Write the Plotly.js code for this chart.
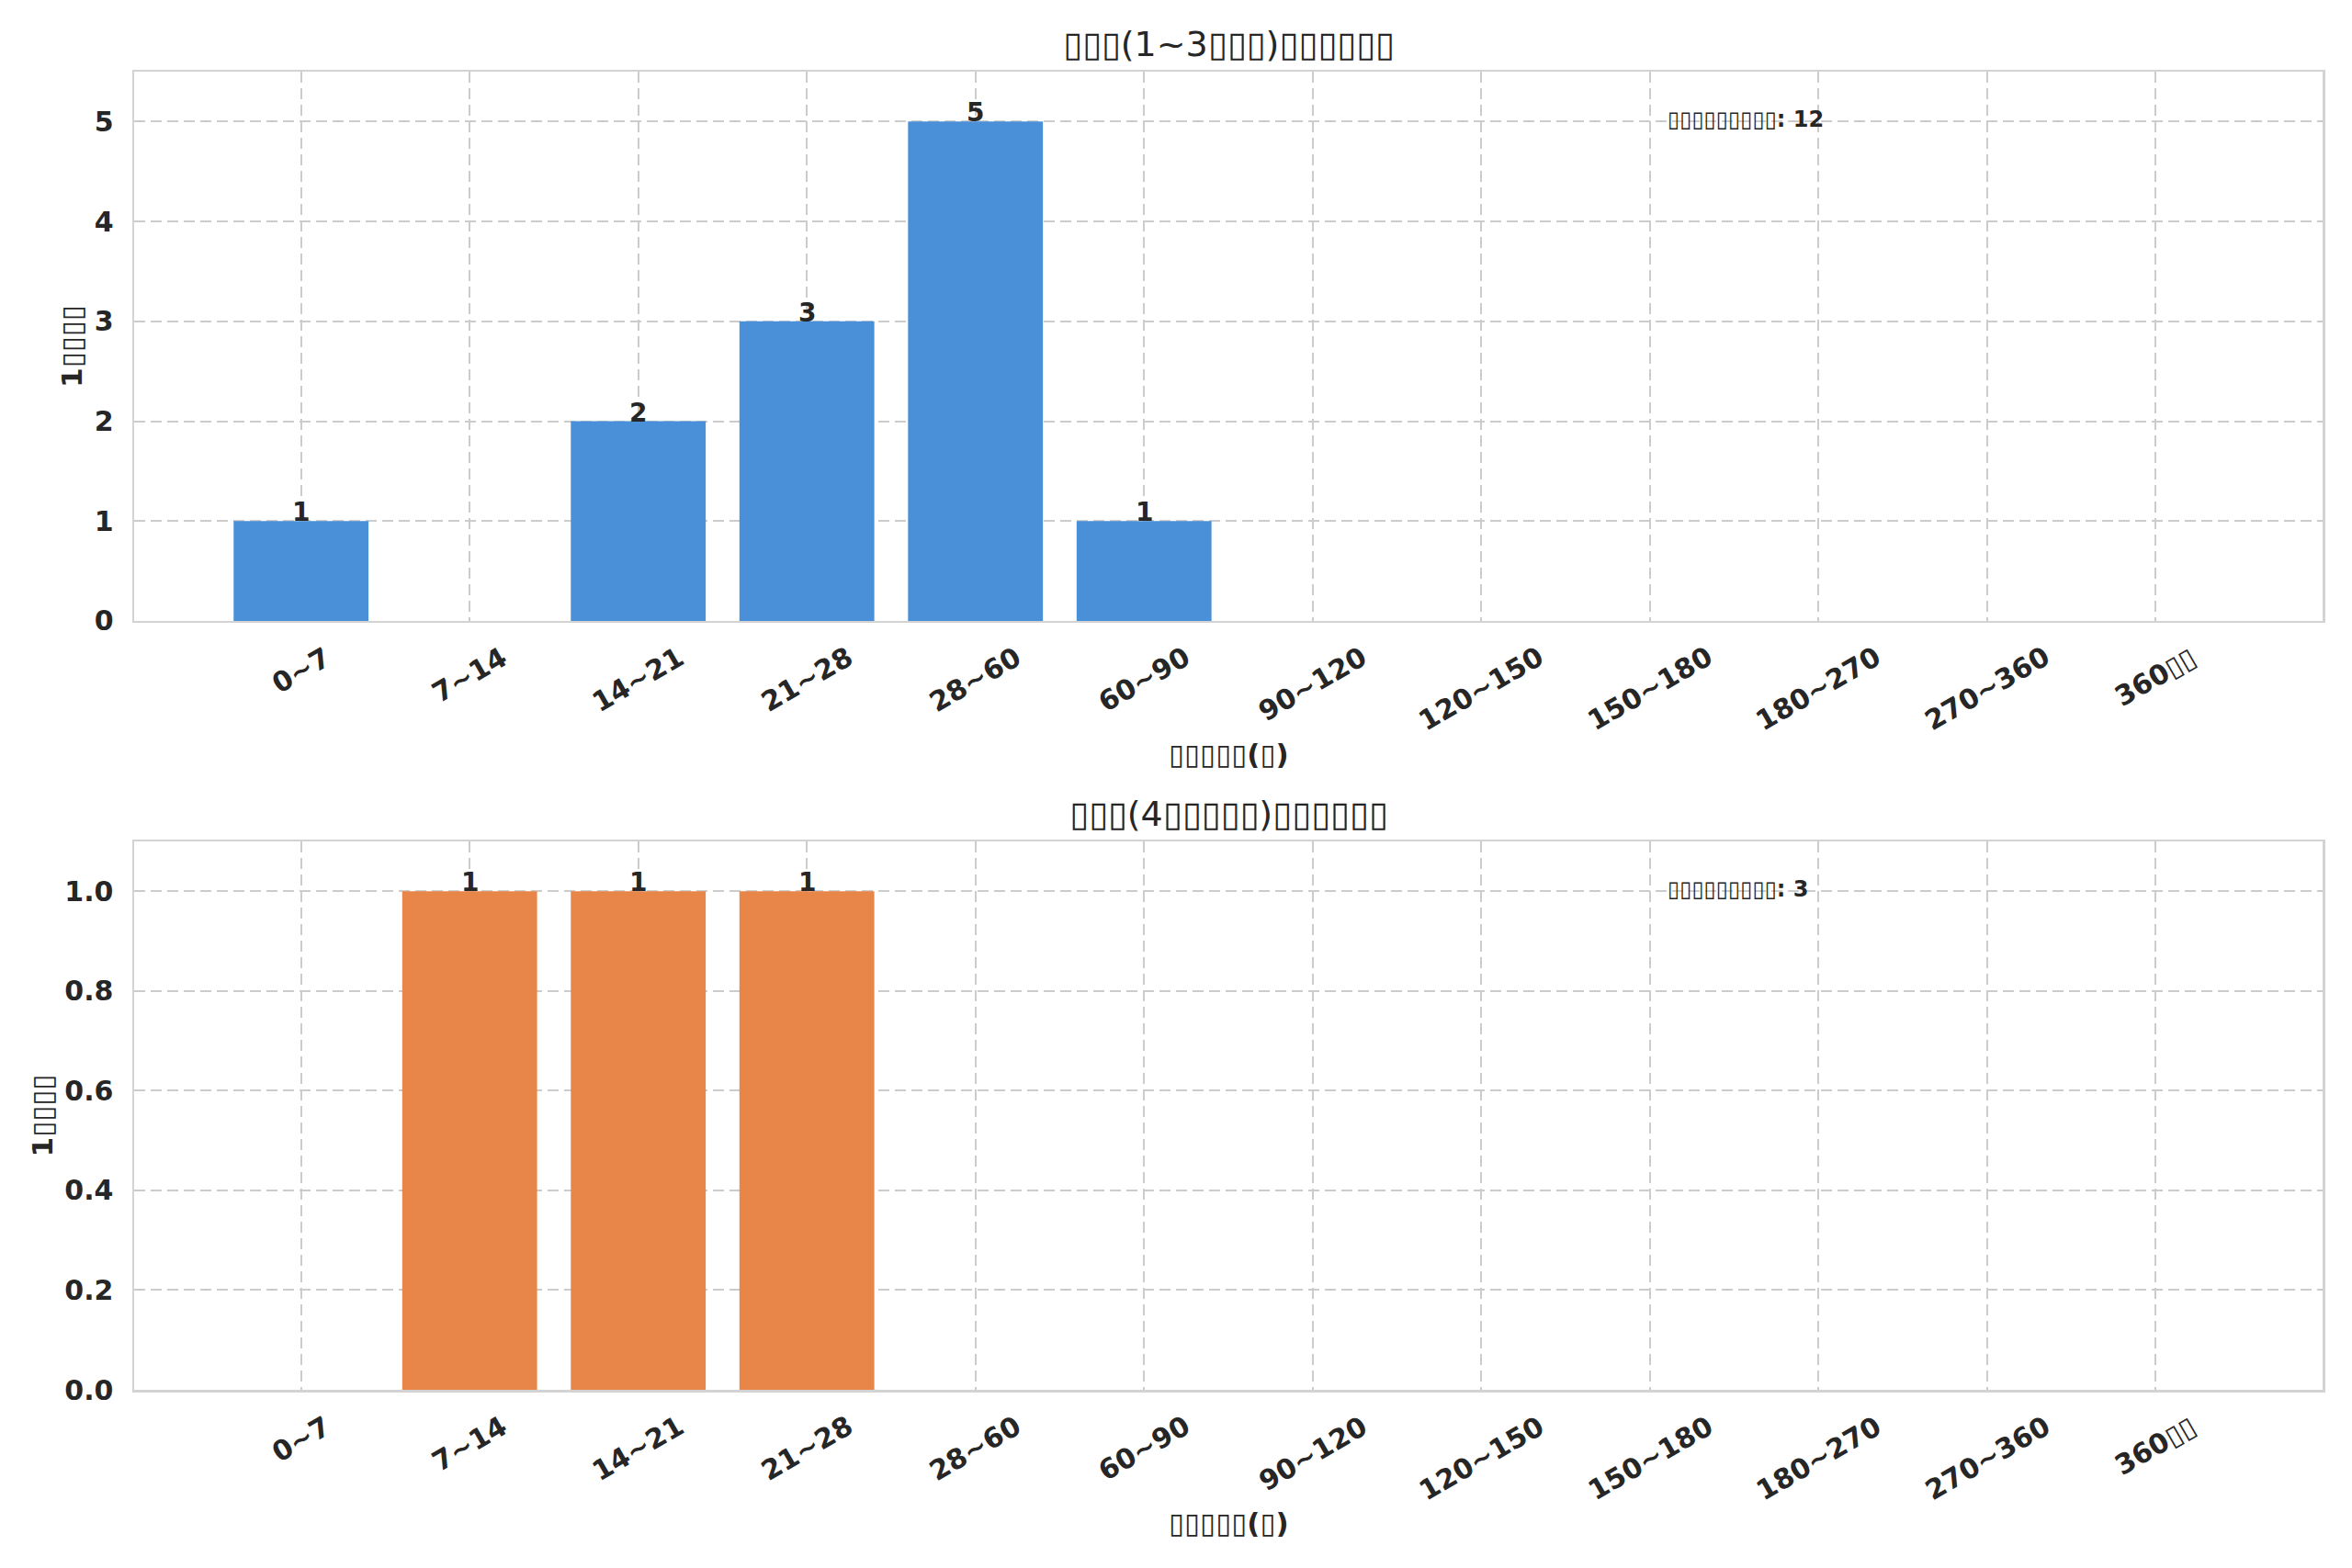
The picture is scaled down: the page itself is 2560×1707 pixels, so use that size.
<!DOCTYPE html>
<html>
<head>
<meta charset="utf-8">
<script src="https://cdn.plot.ly/plotly-3.0.1.min.js"></script>
<style>html,body{margin:0;padding:0;background:#fff;}#chart{width:2560px;height:1707px;}</style>
</head>
<body>
<div id="chart"></div>
<script>
var B = '\u25AF';
function boxes(n){ return B.repeat(n); }

var categories = ['0~7','7~14','14~21','21~28','28~60','60~90','90~120','120~150','150~180','180~270','270~360','360' + boxes(2)];
var valuesTop = [1,0,2,3,5,1,0,0,0,0,0,0];
var valuesBottom = [0,1,1,1,0,0,0,0,0,0,0,0];
var titleTop = boxes(3) + '(1~3' + boxes(3) + ')' + boxes(6);
var titleBottom = boxes(3) + '(4' + boxes(5) + ')' + boxes(6);
var xLabel = boxes(5) + '(' + boxes(1) + ')';
var yLabel = '1' + boxes(4);
var noteLabel = boxes(9) + ': ';
var yTicksTop = [0,1,2,3,4,5];
var yTicksBottom = [0,0.2,0.4,0.6,0.8,1.0];

var FONT = 'DejaVu Sans';
var TXT = '#262626';
var BLUE = '#4a90d9';
var ORANGE = '#e8864a';

function sum(a){ return a.reduce(function(s,v){return s+v;},0); }

var traces = [
  {type:'bar', x:categories, y:valuesTop, xaxis:'x', yaxis:'y', width:0.8,
   marker:{color:BLUE, line:{width:0}}, hoverinfo:'none'},
  {type:'bar', x:categories, y:valuesBottom, xaxis:'x2', yaxis:'y2', width:0.8,
   marker:{color:ORANGE, line:{width:0}}, hoverinfo:'none'}
];

var annotations = [];
function addPanel(xa, ya, vals, title){
  var xr = xa === 'x' ? 'x' : 'x2';
  var yr = ya === 'y' ? 'y' : 'y2';
  vals.forEach(function(v,i){
    if (v > 0) {
      annotations.push({x:categories[i], y:v, xref:xr, yref:yr, text:String(v), showarrow:false,
        yanchor:'bottom', xanchor:'center', yshift:-8, borderpad:0,
        font:{family:FONT, size:28, color:TXT, weight:'bold'}});
    }
  });
  categories.forEach(function(c,i){
    annotations.push({x:c, y:0, xref:xr, yref:yr + ' domain', text:c, showarrow:false,
      textangle:-30, yanchor:'top', xanchor:'center', yshift:-20, borderpad:0,
      font:{family:FONT, size:30, color:TXT, weight:'bold'}});
  });
  annotations.push({x:0.5, y:1, xref:xr + ' domain', yref:yr + ' domain', text:title, showarrow:false,
    yanchor:'bottom', xanchor:'center', yshift:6,
    font:{family:FONT, size:38, color:TXT}});
  annotations.push({x:0.5, y:0, xref:xr + ' domain', yref:yr + ' domain', text:xLabel, showarrow:false,
    yanchor:'middle', xanchor:'center', yshift:-145,
    font:{family:FONT, size:31, color:TXT, weight:'bold'}});
  annotations.push({x:0.7, y:0.913, xref:xr + ' domain', yref:yr + ' domain', text:noteLabel + '<b>' + sum(vals) + '</b>', showarrow:false,
    yanchor:'middle', xanchor:'left',
    font:{family:FONT, size:24, color:TXT, weight:'bold'}});
}
addPanel('x','y',valuesTop,titleTop);
addPanel('x2','y2',valuesBottom,titleBottom);

var xCommon = {type:'category', range:[-0.99, 11.99], showticklabels:false, ticks:'',
  showgrid:true, gridcolor:'#cccccc', gridwidth:2, griddash:'12px,6px',
  showline:true, linecolor:'#d3d3d3', linewidth:2.5, mirror:true, zeroline:false, fixedrange:true};
function yCommon(range, tickvals, fmt, domain){
  return {range:range, domain:domain, tickvals:tickvals, tickformat:fmt, ticks:'', ticklabelstandoff:14,
    showgrid:true, gridcolor:'#cccccc', gridwidth:2, griddash:'12px,6px',
    showline:true, linecolor:'#d3d3d3', linewidth:2.5, mirror:true, zeroline:false,
    tickfont:{family:FONT, size:30, color:TXT, weight:'bold'},
    title:{text:yLabel, standoff:4, font:{family:FONT, size:31, color:TXT, weight:'bold'}}};
}

var layout = {
  width:2560, height:1707,
  margin:{l:146, r:32, t:78, b:194, pad:0},
  paper_bgcolor:'#ffffff', plot_bgcolor:'#ffffff',
  showlegend:false,
  xaxis: Object.assign({}, xCommon, {anchor:'y'}),
  xaxis2: Object.assign({}, xCommon, {anchor:'y2'}),
  yaxis: Object.assign(yCommon([0,5.5], yTicksTop, 'd', [0.5833,1]), {anchor:'x'}),
  yaxis2: Object.assign(yCommon([0,1.1], yTicksBottom, '.1f', [0,0.416]), {anchor:'x2'}),
  annotations: annotations,
  font:{family:FONT, color:TXT}
};

Plotly.newPlot('chart', traces, layout, {staticPlot:true, displayModeBar:false});
</script>
</body>
</html>
